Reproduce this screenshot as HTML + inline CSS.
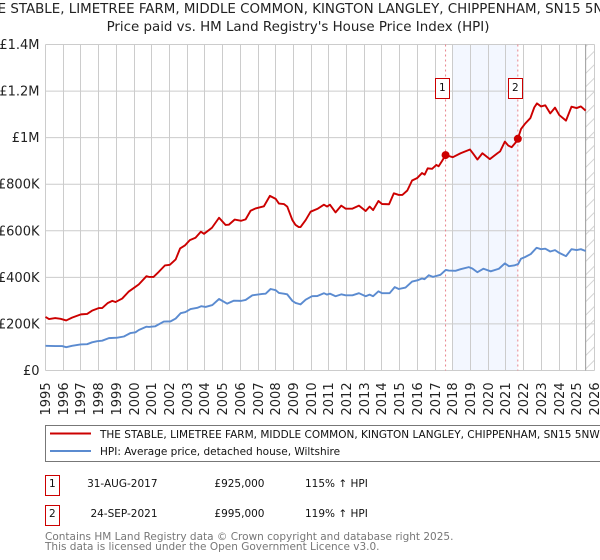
<!DOCTYPE html>
<html>
<head>
<meta charset="utf-8">
<title>Price paid vs HPI</title>
<style>
html,body{margin:0;padding:0;background:#fff;width:600px;height:560px;overflow:hidden}
svg{display:block;font-family:"DejaVu Sans","Liberation Sans",sans-serif}
</style>
</head>
<body>
<svg id="chart" xmlns="http://www.w3.org/2000/svg" width="600" height="560" viewBox="0 0 600 560">
  <defs>
    <pattern id="hatch" width="9.5" height="9.5" patternUnits="userSpaceOnUse" patternTransform="rotate(-45)">
      <rect width="9.5" height="1" fill="#d4d4d4"></rect>
    </pattern>
  </defs>
  <text x="298" y="13" text-anchor="middle" font-size="13.4" fill="#222">THE STABLE, LIMETREE FARM, MIDDLE COMMON, KINGTON LANGLEY, CHIPPENHAM, SN15 5NW</text>
  <text x="298" y="31" text-anchor="middle" font-size="13.4" fill="#222">Price paid vs. HM Land Registry's House Price Index (HPI)</text>
  <g id="plot"></g>

  <rect x="45.5" y="425.5" width="570" height="36" fill="#fff" stroke="#777" stroke-width="1"></rect>
  <line x1="50" x2="91" y1="433.5" y2="433.5" stroke="#cc0000" stroke-width="2"></line>
  <text x="100" y="438" font-size="10.5" fill="#111">THE STABLE, LIMETREE FARM, MIDDLE COMMON, KINGTON LANGLEY, CHIPPENHAM, SN15 5NW</text>
  <line x1="50" x2="91" y1="451" y2="451" stroke="#5b8bd0" stroke-width="2"></line>
  <text x="100" y="455" font-size="10.5" fill="#111">HPI: Average price, detached house, Wiltshire</text>

  <g font-size="10.5" fill="#111">
    <rect x="45.5" y="475.5" width="14" height="20" fill="#fff" stroke="#c00"></rect>
    <text x="52.3" y="487" text-anchor="middle">1</text>
    <text x="157.5" y="487" text-anchor="end">31-AUG-2017</text>
    <text x="264.5" y="487" text-anchor="end">£925,000</text>
    <text x="305" y="487">115% ↑ HPI</text>
    <rect x="45.5" y="505.5" width="14" height="20" fill="#fff" stroke="#c00"></rect>
    <text x="52.3" y="517" text-anchor="middle">2</text>
    <text x="157.5" y="517" text-anchor="end">24-SEP-2021</text>
    <text x="264.5" y="517" text-anchor="end">£995,000</text>
    <text x="305" y="517">119% ↑ HPI</text>
  </g>
  <text x="45" y="540" font-size="10.5" fill="#777">Contains HM Land Registry data © Crown copyright and database right 2025.</text>
  <text x="45" y="550" font-size="10.5" fill="#777">This data is licensed under the Open Government Licence v3.0.</text>
</svg>
<script>
const yTickValues = [0, 200, 400, 600, 800, 1000, 1200, 1400];
const yTickLabels = ["£0", "£200K", "£400K", "£600K", "£800K", "£1M", "£1.2M", "£1.4M"];
const xTickYears = [1995,1996,1997,1998,1999,2000,2001,2002,2003,2004,2005,2006,2007,2008,2009,2010,2011,2012,2013,2014,2015,2016,2017,2018,2019,2020,2021,2022,2023,2024,2025,2026];

const priceDates = [1995,1995.2,1995.55,1995.85,1996.17,1996.5,1996.75,1997,1997.35,1997.63,1998,1998.2,1998.52,1998.77,1998.95,1999.33,1999.7,2000,2000.27,2000.7,2000.84,2001.1,2001.4,2001.74,2002.02,2002.35,2002.6,2002.87,2003.15,2003.47,2003.77,2003.95,2004.4,2004.8,2005.17,2005.35,2005.68,2006.05,2006.3,2006.58,2006.86,2007.33,2007.67,2008,2008.18,2008.46,2008.65,2008.94,2009.12,2009.3,2009.4,2009.69,2009.97,2010.35,2010.72,2010.9,2011.06,2011.38,2011.7,2011.95,2012.33,2012.7,2013.08,2013.3,2013.5,2013.8,2014,2014.4,2014.67,2014.95,2015.15,2015.43,2015.7,2015.98,2016.26,2016.41,2016.58,2016.83,2017.07,2017.2,2017.4,2017.59,2018,2018.44,2018.97,2019.16,2019.39,2019.67,2020.09,2020.52,2020.67,2020.94,2021.13,2021.32,2021.56,2021.67,2021.85,2022.07,2022.38,2022.6,2022.75,2022.98,2023.22,2023.5,2023.77,2024.01,2024.39,2024.7,2024.99,2025.23,2025.5];
const priceValues = [230,221,225,222,215,227,234,241,243,257,268,268,290,299,294,309,339,355,370,405,402,402,424,451,454,477,524,537,560,570,596,587,613,656,625,626,648,643,649,686,696,705,750,737,717,715,704,646,625,616,616,646,682,694,712,704,712,679,708,695,695,708,685,704,689,728,715,714,761,754,754,773,816,826,848,841,868,866,883,877,901,925,916,933,949,930,906,933,908,933,941,983,966,959,980,995,1037,1059,1084,1130,1147,1134,1139,1104,1129,1097,1073,1133,1127,1134,1116];

const hpiDates = [1995,1995.56,1995.94,1996.17,1996.5,1996.98,1997.35,1997.63,1997.92,1998.2,1998.58,1999.05,1999.43,1999.8,2000.08,2000.27,2000.69,2000.84,2001.2,2001.68,2002.06,2002.35,2002.63,2002.9,2003.19,2003.57,2003.79,2004.04,2004.42,2004.8,2005.26,2005.64,2006.05,2006.3,2006.68,2007.24,2007.43,2007.71,2008,2008.18,2008.46,2008.65,2008.94,2009.12,2009.4,2009.69,2010.05,2010.35,2010.72,2010.9,2011.06,2011.38,2011.7,2011.95,2012.33,2012.7,2013.08,2013.3,2013.5,2013.8,2014,2014.43,2014.72,2014.95,2015.33,2015.7,2016.03,2016.26,2016.4,2016.64,2016.88,2017.3,2017.6,2017.77,2018.15,2018.44,2018.9,2019.1,2019.39,2019.73,2020.14,2020.6,2020.94,2021.17,2021.46,2021.69,2021.85,2022.07,2022.4,2022.73,2022.98,2023.22,2023.5,2023.77,2024.01,2024.39,2024.7,2024.99,2025.23,2025.5];
const hpiValues = [106,105,105,100,106,112,113,121,126,128,139,141,146,161,164,174,188,187,190,210,211,223,246,251,264,269,276,273,281,307,287,300,299,303,323,329,330,350,345,333,330,327,299,290,284,304,319,320,332,326,330,319,327,323,323,332,319,326,319,340,332,332,358,350,356,382,388,395,392,409,402,411,432,429,428,435,444,438,422,437,426,437,460,448,451,457,480,487,500,527,521,523,511,517,505,491,521,517,521,513];

const saleIds = ["1", "2"];
const saleDates = [2017.59, 2021.67];
const saleValues = [925, 995];
const highlightStart = 2018;
const dataEnd = 2025.5;

const NS = 'http://www.w3.org/2000/svg';
const plot = document.getElementById('plot');
const X0 = 45.5, X1 = 594.5, Y0 = 370.5, Y1 = 44.5;
const sx = function (year) { return X0 + (year - 1995) * (X1 - X0) / 31; };
const sy = function (k) { return Y0 - k * (Y0 - Y1) / 1400; };
function mk(tag, attrs, text) {
  const el = document.createElementNS(NS, tag);
  for (const k in attrs) el.setAttribute(k, attrs[k]);
  if (text !== undefined) el.textContent = text;
  plot.appendChild(el);
  return el;
}

const shade = mk('rect', {x: sx(highlightStart), y: Y1, width: sx(saleDates[1]) - sx(highlightStart), height: Y0 - Y1, fill: '#f3f7ff'});


const hatchRect = mk('rect', {x: sx(dataEnd), y: Y1, width: X1 - sx(dataEnd), height: Y0 - Y1, fill: 'url(#hatch)'});



xTickYears.forEach(function (yr) {
  const x = Math.round(sx(yr) - 0.5) + 0.5;
  const g = mk('line', {x1: x, x2: x, y1: Y1, y2: Y0, stroke: '#cccccc', 'stroke-width': 1});
  
  
  const t = mk('text', {'font-size': 13, fill: '#222', transform: 'translate(' + (x + 4.5) + ',415.5) rotate(-90)'}, String(yr));
  
  
});
yTickValues.forEach(function (v, i) {
  const y = sy(v);
  const g = mk('line', {x1: X0, x2: X1, y1: y, y2: y, stroke: '#cccccc', 'stroke-width': 1});
  
  
  const t = mk('text', {x: 39.5, y: y + 4.5, 'font-size': 13, fill: '#222', 'text-anchor': 'end'}, yTickLabels[i]);
  
  
});

const endLine = mk('line', {x1: sx(dataEnd), x2: sx(dataEnd), y1: Y1, y2: Y0, stroke: '#999999', 'stroke-width': 1});



function pathFrom(xs, ys) {
  return xs.map(function (d, i) {
    return (i ? 'L' : 'M') + sx(d).toFixed(2) + ' ' + sy(ys[i]).toFixed(2);
  }).join(' ');
}

saleDates.forEach(function (d) {
  const l = mk('line', {x1: sx(d), x2: sx(d), y1: Y1, y2: Y0, stroke: '#e8838b', 'stroke-width': 1, 'stroke-dasharray': '2 3'});
  
  
});

const hpiLine = mk('path', {d: pathFrom(hpiDates, hpiValues), fill: 'none', stroke: '#5b8bd0', 'stroke-width': 1.9, 'stroke-linejoin': 'round'});


const priceLine = mk('path', {d: pathFrom(priceDates, priceValues), fill: 'none', stroke: '#cc0000', 'stroke-width': 1.9, 'stroke-linejoin': 'round'});



saleDates.forEach(function (d, i) {
  const dot = mk('circle', {cx: sx(d), cy: sy(saleValues[i]), r: 4, fill: '#cc0000'});
  
  
  const bx = Math.floor(sx(d) - 9.8) + 0.5;
  const box = mk('rect', {x: bx, y: 78.5, width: 14, height: 20, fill: '#fff', stroke: '#c00'});
  
  
  const label = mk('text', {x: bx + 6.8, y: 91, 'font-size': 10.5, fill: '#111', 'text-anchor': 'middle'}, saleIds[i]);
  
  
});
</script>
</body>
</html>
